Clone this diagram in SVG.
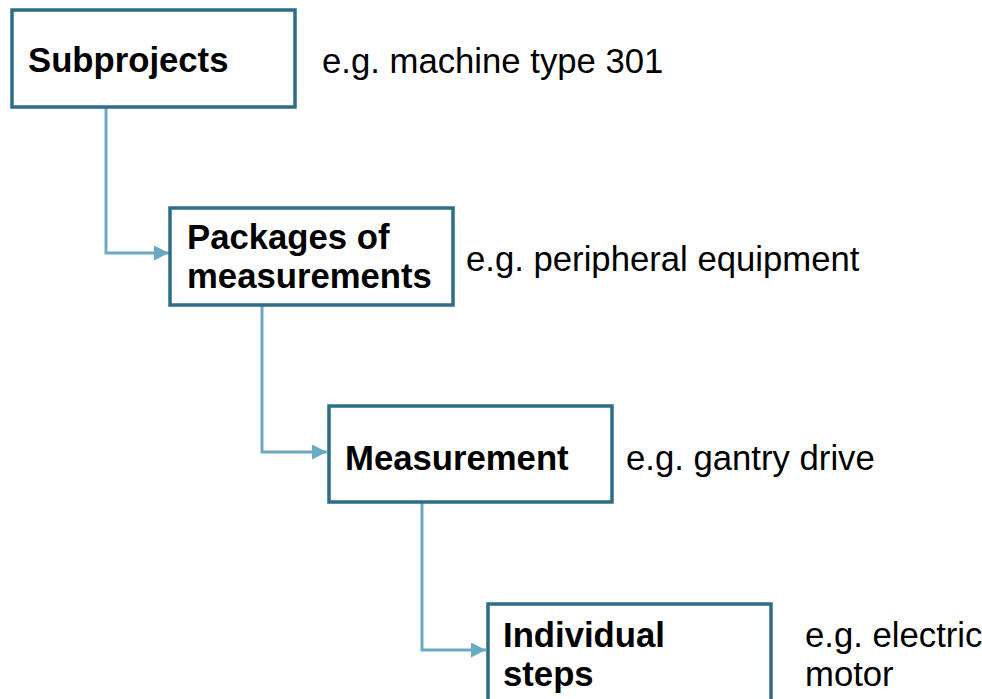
<svg xmlns="http://www.w3.org/2000/svg" width="982" height="699" viewBox="0 0 982 699">
  <style>
    .box { fill: #ffffff; stroke: #2e6d88; stroke-width: 3.5; }
    .title { font-family: "Liberation Sans", Arial, sans-serif; font-size: 34.7px; font-weight: bold; fill: #000000; }
    .note { font-family: "Liberation Sans", Arial, sans-serif; font-size: 34.7px; fill: #000000; }
    .link { fill: none; stroke: #6aaac3; stroke-width: 3; }
  </style>
  <defs>
    <marker id="arrow" viewBox="0 0 10 10" refX="10" refY="5" markerWidth="5.5" markerHeight="5" markerUnits="strokeWidth" orient="auto">
      <path d="M0,0 L10,5 L0,10 Z" fill="#6aaac3"/>
    </marker>
  </defs>
  <rect width="982" height="699" fill="#ffffff"/>

  <g id="connectors">
    <path class="link" d="M106,108 V253 H169" marker-end="url(#arrow)"/>
    <path class="link" d="M262,306 V452 H327" marker-end="url(#arrow)"/>
    <path class="link" d="M422,503 V650 H486" marker-end="url(#arrow)"/>
  </g>

  <g id="subprojects">
    <rect class="box" x="12" y="10" width="283" height="97"/>
    <text class="title" x="28" y="72">Subprojects</text>
    <text class="note" x="322" y="73">e.g. machine type 301</text>
  </g>

  <g id="packages">
    <rect class="box" x="170" y="208" width="283" height="97"/>
    <text class="title" x="187" y="249">Packages of</text>
    <text class="title" x="187" y="288">measurements</text>
    <text class="note" x="466" y="271">e.g. peripheral equipment</text>
  </g>

  <g id="measurement">
    <rect class="box" x="329" y="406" width="283" height="96"/>
    <text class="title" x="345" y="470">Measurement</text>
    <text class="note" x="626" y="470">e.g. gantry drive</text>
  </g>

  <g id="steps">
    <rect class="box" x="488" y="604" width="283" height="110"/>
    <text class="title" x="503" y="647">Individual</text>
    <text class="title" x="503" y="686">steps</text>
    <text class="note" x="805" y="647">e.g. electric</text>
    <text class="note" x="805" y="686">motor</text>
  </g>
</svg>
